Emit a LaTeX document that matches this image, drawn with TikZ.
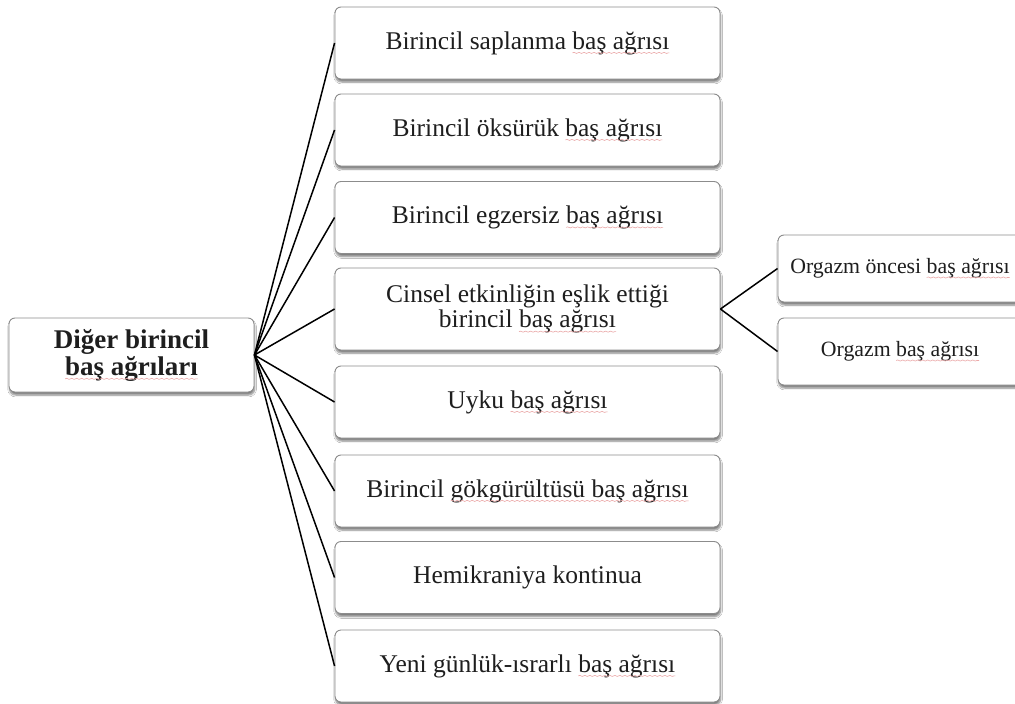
\documentclass[tikz,border=0pt]{standalone}
\usepackage{fontspec}
\setmainfont{Liberation Serif}
\usetikzlibrary{shadows.blur,decorations.pathmorphing}
\definecolor{boxline}{HTML}{8C8C8C}
\definecolor{ink}{HTML}{1E1E1E}
\definecolor{spell}{HTML}{EBA8A8}

% words marked with a thin wavy underline
\newcommand\sq[1]{\tikz[baseline=(w.base)]{%
  \node[shape=rectangle,draw=none,fill=none,inner sep=0pt,outer sep=0pt,
        minimum width=0pt,minimum height=0pt,anchor=base](w){#1};%
  \draw[overlay,spell,line width=0.6pt,sharp corners,decorate,
        decoration={snake,amplitude=0.55pt,segment length=5pt}]
       ([yshift=-3.8pt]w.base west)--([yshift=-3.8pt]w.base east);}}

\tikzset{
  box/.style={draw=boxline, line width=0.9pt, rounded corners=6pt, fill=white,
    blur shadow={shadow xshift=0.6pt, shadow yshift=-3pt, shadow blur steps=6,
                 shadow opacity=50},
    text=ink, align=center},
  mainbox/.style={box, minimum width=385pt, minimum height=72pt,
    font=\fontsize{25.5}{25.5}\selectfont},
  subbox/.style={box, minimum width=244pt, minimum height=67pt,
    font=\fontsize{21.8}{23}\selectfont},
  rootbox/.style={box, minimum width=245pt, minimum height=74pt,
    font=\bfseries\fontsize{27}{27}\selectfont},
  conn/.style={draw=black, line width=1.5pt}
}

\begin{document}
\begin{tikzpicture}[x=1pt,y=-1pt]
\path[use as bounding box, fill=white] (0,0) rectangle (1015,704);

\node[rootbox] (root) at (131.5,355) {Diğer birincil\\\sq{baş ağrıları}};

\node[mainbox] (b1) at (527.5,43)    {Birincil saplanma \sq{baş ağrısı}};
\node[mainbox] (b2) at (527.5,130)   {Birincil öksürük \sq{baş ağrısı}};
\node[mainbox] (b3) at (527.5,217.5) {Birincil egzersiz \sq{baş ağrısı}};
\node[mainbox, minimum height=82pt] (b4) at (527.5,309)
  {Cinsel etkinliğin eşlik ettiği\\birincil \sq{baş ağrısı}};
\node[mainbox] (b5) at (527.5,402)   {Uyku \sq{baş ağrısı}};
\node[mainbox] (b6) at (527.5,491)   {Birincil \sq{gökgürültüsü baş ağrısı}};
\node[mainbox] (b7) at (527.5,577.5) {Hemikraniya kontinua};
\node[mainbox] (b8) at (527.5,666)   {Yeni günlük-ısrarlı \sq{baş ağrısı}};

\node[subbox] (s1) at (900,268.5) {Orgazm öncesi \sq{baş ağrısı}};
\node[subbox] (s2) at (900,351.5) {Orgazm \sq{baş ağrısı}};

% fan of connectors from the root and from the fourth box
\foreach \b in {b1,b2,b3,b4,b5,b6,b7,b8}
  \draw[conn] (root.east) -- (\b.west);
\draw[conn] (b4.east) -- (s1.west);
\draw[conn] (b4.east) -- (s2.west);
\end{tikzpicture}
\end{document}
